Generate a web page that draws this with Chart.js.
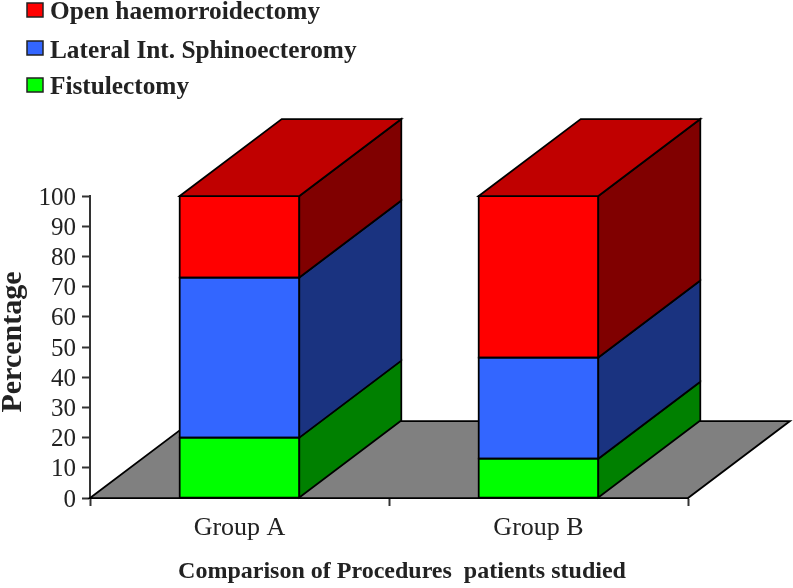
<!DOCTYPE html>
<html>
<head>
<meta charset="utf-8">
<title>Comparison of Procedures</title>
<script src="https://cdn.jsdelivr.net/npm/chart.js@4"></script>
<style>
  html, body { margin: 0; padding: 0; background: #fff; }
  canvas { display: block; }
</style>
</head>
<body>
<canvas id="procedureChart" width="793" height="588"></canvas>
<script>
const groups = ['Group A', 'Group B'];
const fistulectomy = [20, 13];
const lateralInt = [53, 33.5];
const openHaem = [27, 53.5];

const seriesNames = ['Fistulectomy', 'Lateral Int. Sphinoecteromy', 'Open haemorroidectomy'];
const frontColors = ['#00ff00', '#3366ff', '#ff0000'];
const sideColors = ['#008000', '#1a3380', '#800000'];
const topColor = '#c00000';
const floorColor = '#808080';
const textColor = '#222';
const yTicks = [0, 10, 20, 30, 40, 50, 60, 70, 80, 90, 100];

// how far the back of the boxes sits from the front, in pixels
const depthX = 102;
const depthY = 77;

function poly(ctx, pts, fill) {
    ctx.beginPath();
    ctx.moveTo(pts[0][0], pts[0][1]);
    for (let i = 1; i < pts.length; i++) ctx.lineTo(pts[i][0], pts[i][1]);
    ctx.closePath();
    if (fill) {
        ctx.fillStyle = fill;
        ctx.fill();
    }
    ctx.lineWidth = 1.75;
    ctx.strokeStyle = '#000';
    ctx.stroke();
}

const floorPlugin = {
    id: 'floor',
    beforeDatasetsDraw(chart) {
        const a = chart.chartArea;
        poly(chart.ctx, [
            [a.left, a.bottom],
            [a.left + depthX, a.bottom - depthY],
            [a.right + depthX, a.bottom - depthY],
            [a.right, a.bottom]
        ], floorColor);
    }
};

const boxPlugin = {
    id: 'box',
    afterDatasetsDraw(chart) {
        const ctx = chart.ctx;
        chart.data.datasets.forEach((ds, d) => {
            chart.getDatasetMeta(d).data.forEach(bar => {
                const r = bar.x + bar.width / 2;
                const l = bar.x - bar.width / 2;
                // outline of the front, the bars themselves have no border
                poly(ctx, [[l, bar.base], [l, bar.y], [r, bar.y], [r, bar.base]]);
                poly(ctx, [
                    [r, bar.base],
                    [r + depthX, bar.base - depthY],
                    [r + depthX, bar.y - depthY],
                    [r, bar.y]
                ], sideColors[d]);
                if (d === chart.data.datasets.length - 1) {
                    poly(ctx, [
                        [l, bar.y],
                        [l + depthX, bar.y - depthY],
                        [r + depthX, bar.y - depthY],
                        [r, bar.y]
                    ], topColor);
                }
            });
        });
    }
};

const labelsPlugin = {
    id: 'labels',
    afterDraw(chart) {
        const ctx = chart.ctx;
        ctx.save();
        ctx.fillStyle = textColor;
        ctx.textAlign = 'left';
        ctx.textBaseline = 'alphabetic';

        // legend, top series first
        const swatchY = [3, 41, 78];
        const textY = [19, 58, 94];
        ctx.font = 'bold 25.3px "Liberation Serif"';
        for (let i = 0; i < 3; i++) {
            const s = 2 - i;
            ctx.fillStyle = frontColors[s];
            ctx.strokeStyle = '#222';
            ctx.lineWidth = 1.5;
            ctx.fillRect(27, swatchY[i], 16, 14);
            ctx.strokeRect(27, swatchY[i], 16, 14);
            ctx.fillStyle = textColor;
            ctx.fillText(seriesNames[s], 50, textY[i]);
        }

        ctx.font = 'bold 24px "Liberation Serif"';
        ctx.textAlign = 'center';
        ctx.fillText('Comparison of Procedures  patients studied', 402, 578);

        ctx.font = 'bold 30px "Liberation Serif"';
        ctx.translate(21, 342);
        ctx.rotate(-Math.PI / 2);
        ctx.fillText('Percentage', 0, 0);
        ctx.restore();
    }
};

new Chart(document.getElementById('procedureChart'), {
    type: 'bar',
    data: {
        labels: groups,
        datasets: [fistulectomy, lateralInt, openHaem].map((values, i) => ({
            label: seriesNames[i],
            data: values,
            backgroundColor: frontColors[i],
            borderWidth: 0,
            barPercentage: 0.8,
            categoryPercentage: 0.5
        }))
    },
    options: {
        responsive: false,
        animation: false,
        layout: { padding: { top: 196, right: 105 } },
        plugins: {
            legend: { display: false },
            tooltip: { enabled: false }
        },
        scales: {
            x: {
                stacked: true,
                afterFit: scale => { scale.height = 90; },
                border: { color: '#333', width: 2 },
                grid: { drawOnChartArea: false, tickLength: 8, tickColor: '#333', tickWidth: 2 },
                ticks: { color: textColor, font: { family: '"Liberation Serif"', size: 26 }, padding: 7, maxRotation: 0 }
            },
            y: {
                stacked: true,
                min: 0,
                max: 100,
                afterFit: scale => { scale.width = 90; },
                afterBuildTicks: scale => { scale.ticks = yTicks.map(v => ({ value: v })); },
                border: { color: '#333', width: 2 },
                grid: { drawOnChartArea: false, tickLength: 8, tickColor: '#333', tickWidth: 2 },
                ticks: { color: textColor, font: { family: '"Liberation Serif"', size: 25 }, padding: 6, autoSkip: false, labelOffset: 2 }
            }
        }
    },
    plugins: [floorPlugin, boxPlugin, labelsPlugin]
});
</script>
</body>
</html>
